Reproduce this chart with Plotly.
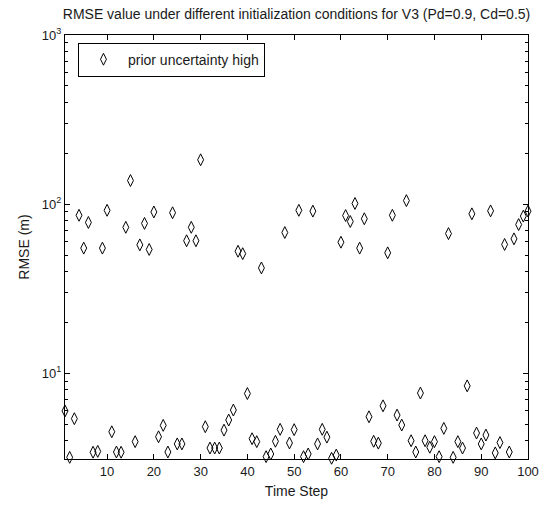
import plotly.graph_objects as go

time_step = list(range(1, 101))
rmse = [
    6.0, 3.19, 5.4, 86, 55, 78, 3.42, 3.46, 55, 92,
    4.52, 3.43, 3.42, 73, 138, 3.95, 57.5, 77, 54, 90,
    4.22, 4.93, 3.43, 89, 3.83, 3.83, 60.8, 73, 60.8, 183,
    4.84, 3.62, 3.62, 3.62, 4.62, 5.3, 6.07, 52.7, 51, 7.6,
    4.11, 3.95, 42, 3.22, 3.34, 3.97, 4.67, 68, 3.88, 4.65,
    92, 3.22, 3.34, 91, 3.83, 4.67, 4.2, 3.15, 3.29, 59.6,
    85.7, 79, 101, 55, 82, 5.54, 3.97, 3.87, 6.43, 51.6,
    86, 5.67, 4.95, 105, 4.0, 3.43, 7.65, 4.0, 3.66, 3.95,
    3.22, 4.73, 67, 3.19, 3.95, 3.62, 8.44, 87.7, 4.44, 3.83,
    4.32, 91.3, 3.39, 3.9, 57.8, 3.43, 62.4, 75.8, 85, 91,
]
x_ticks = [10, 20, 30, 40, 50, 60, 70, 80, 90, 100]
y_ticks = [10, 100, 1000]
y_tick_text = ["10<sup>1</sup>", "10<sup>2</sup>", "10<sup>3</sup>"]
y_minor = [m * d for d in (1, 10, 100) for m in range(2, 10)]

FONT = "Liberation Sans, Arial, sans-serif"
TXT = "#1a1a1a"

fig = go.Figure()
fig.add_trace(go.Scatter(
    x=time_step, y=rmse, mode="markers", name="prior uncertainty high",
    cliponaxis=False,
    marker=dict(symbol="diamond-tall-open", size=8.5, color="black",
                line=dict(color="black", width=1)),
))

axis_common = dict(showline=True, linecolor="black", linewidth=1, mirror="ticks",
                   ticks="inside", tickcolor="black", showgrid=False, zeroline=False,
                   tickfont=dict(family=FONT, size=13, color=TXT))

fig.update_xaxes(range=[1, 100], tickvals=x_ticks, ticklen=5,
                 title=dict(text="Time Step", font=dict(family=FONT, size=14, color=TXT), standoff=8),
                 **axis_common)
fig.update_yaxes(type="log", range=[0.494, 3], tickvals=y_ticks, ticktext=y_tick_text, ticklen=5,
                 minor=dict(tickvals=y_minor, ticks="inside", ticklen=3, tickcolor="black"),
                 title=dict(text="RMSE (m)", font=dict(family=FONT, size=14, color=TXT), standoff=8),
                 **axis_common)

fig.update_layout(
    width=551, height=508,
    margin=dict(l=65, r=15, t=35, b=48),
    paper_bgcolor="white", plot_bgcolor="white",
    title=dict(text="RMSE value under different initialization conditions for V3 (Pd=0.9, Cd=0.5)",
               x=0.5, xref="paper", xanchor="center", y=1 - 14 / 508, yref="container",
               yanchor="middle", font=dict(family=FONT, size=14, color=TXT)),
    showlegend=True,
    legend=dict(x=0.028, y=0.982, xanchor="left", yanchor="top", bgcolor="white",
                bordercolor="black", borderwidth=1, itemwidth=39,
                font=dict(family=FONT, size=14, color=TXT)),
)

fig.write_html("out.html")
